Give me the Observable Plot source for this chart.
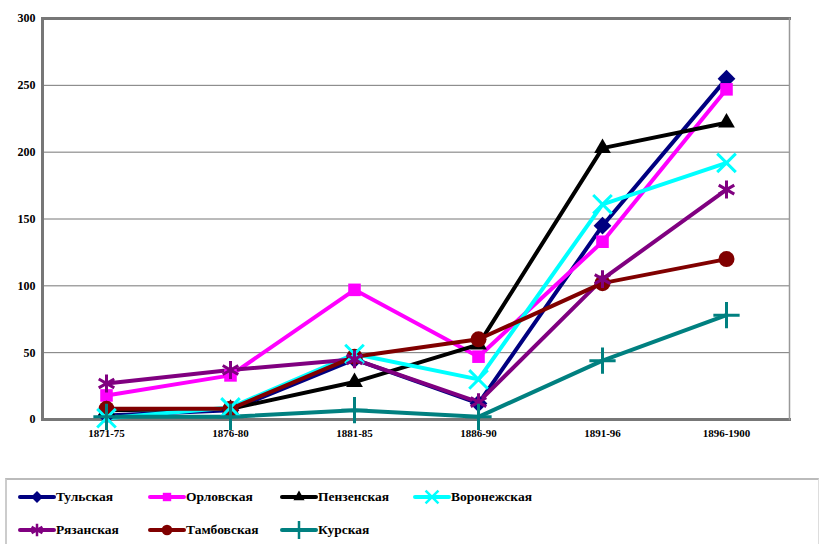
<!DOCTYPE html>
<html><head><meta charset="utf-8">
<script src="https://cdn.jsdelivr.net/npm/d3@7"></script>
<script src="https://cdn.jsdelivr.net/npm/@observablehq/plot@0.6"></script>
<style>
body{margin:0;background:#fff;font-family:'Liberation Serif','Times New Roman','DejaVu Serif',serif;}
#wrap{position:relative;width:820px;height:544px;}
#legend{position:absolute;left:5px;top:478px;width:811px;height:64px;border-top:2px solid #bbb;border-left:2px solid #ccc;border-right:1px solid #ddd;}
.item{position:absolute;display:flex;align-items:center;font-weight:bold;font-size:13.5px;color:#000;font-family:'Liberation Serif','Times New Roman','DejaVu Serif',serif;}
svg text{font-family:'Liberation Serif','Times New Roman','DejaVu Serif',serif;}
</style></head><body>
<div id="wrap"><div id="chart"></div><div id="legend"></div></div>
<script>
const periods = ["1871-75","1876-80","1881-85","1886-90","1891-96","1896-1900"];
const names = ["Тульская","Орловская","Пензенская","Воронежская","Рязанская","Тамбовская","Курская"];
const colors = ["#000080","#ff00ff","#000000","#00ffff","#800080","#800000","#008080"];
const symbols = ["diamond2","square2","triangle2","times","asterisk","circle","plus"];
const tula  = [3, 7, 45, 12, 145, 255];
const orel  = [18, 33, 97, 47, 133, 247];
const penza = [7, 8, 28, 56, 203, 222];
const voron = [1, 9, 49, 30, 161, 192];
const ryaz  = [27, 37, 45, 13, 105, 172];
const tamb  = [8, 8, 47, 60, 102, 120];
const kursk = [2, 2, 7, 2, 44, 78];
const yTicks = [0,50,100,150,200,250,300];

const series = [tula, orel, penza, voron, ryaz, tamb, kursk];
const rows = [];
series.forEach((vals, i) => vals.forEach((v, j) => rows.push({name: names[i], period: periods[j], value: v, sym: symbols[i]})));
const strokeSyms = new Set(["times","asterisk","plus"]);
const serif = "'Liberation Serif','Times New Roman','DejaVu Serif',serif";

const chart = Plot.plot({
  width: 820, height: 450,
  marginTop: 18, marginLeft: 42, marginRight: 31, marginBottom: 31,
  style: {fontFamily: serif, fontWeight: "bold", fontSize: "11px", background: "transparent"},
  x: {type: "point", domain: periods, padding: 0.5, label: null},
  y: {domain: [0, 300], label: null},
  color: {domain: names, range: colors},
  symbol: {domain: names, range: symbols},
  marks: [
    Plot.ruleY(yTicks, {stroke: "#777", strokeWidth: 1}),
    Plot.frame({stroke: "#777", strokeWidth: 3, anchor: "left"}),
    Plot.frame({stroke: "#777", strokeWidth: 3, anchor: "top"}),
    Plot.frame({stroke: "#777", strokeWidth: 3, anchor: "bottom"}),
    Plot.frame({stroke: "#999", strokeWidth: 1.5, anchor: "right"}),
    Plot.axisY({ticks: yTicks, tickSize: 0, tickPadding: 7, fontSize: 12, fontWeight: "bold", fill: "#000", fontFamily: serif}),
    Plot.axisX({tickSize: 0, tickPadding: 10, fontSize: 11, fontWeight: "bold", fill: "#000", fontFamily: serif}),
    Plot.line(rows, {x: "period", y: "value", z: "name", stroke: "name", strokeWidth: 4, strokeLinejoin: "round"}),
    Plot.dot(rows.filter(d => !strokeSyms.has(d.sym)), {x: "period", y: "value", fill: "name", symbol: "name", r: 8, stroke: "none"}),
    Plot.dot(rows.filter(d => strokeSyms.has(d.sym)), {x: "period", y: "value", stroke: "name", symbol: "name", r: 8.5, strokeWidth: 3})
  ]
});
document.getElementById("chart").appendChild(chart);

// legend
const leg = document.getElementById("legend");
const pos = [[11,17],[141,17],[273,17],[406,17],[11,50],[141,50],[273,50]];
const d3sym = {diamond2: d3.symbolDiamond2, square2: d3.symbolSquare2, triangle2: d3.symbolTriangle2, times: d3.symbolTimes, asterisk: d3.symbolAsterisk, circle: d3.symbolCircle, plus: d3.symbolPlus};
names.forEach((n, i) => {
  const it = document.createElement("div");
  it.className = "item";
  it.style.left = pos[i][0] + "px";
  it.style.top = (pos[i][1] - 10) + "px";
  const svg = d3.create("svg").attr("width", 38).attr("height", 20);
  svg.append("line").attr("x1", 2).attr("x2", 36).attr("y1", 10).attr("y2", 10).attr("stroke", colors[i]).attr("stroke-width", 4).attr("stroke-linecap", "round");
  const isStroke = strokeSyms.has(symbols[i]);
  svg.append("path").attr("transform", "translate(19,10)").attr("d", d3.symbol(d3sym[symbols[i]], isStroke ? 110 : 90)())
    .attr("fill", isStroke ? "none" : colors[i]).attr("stroke", isStroke ? colors[i] : "none").attr("stroke-width", 2.5);
  it.appendChild(svg.node());
  const t = document.createElement("span");
  t.textContent = n;
  it.appendChild(t);
  leg.appendChild(it);
});
</script>
</body></html>
